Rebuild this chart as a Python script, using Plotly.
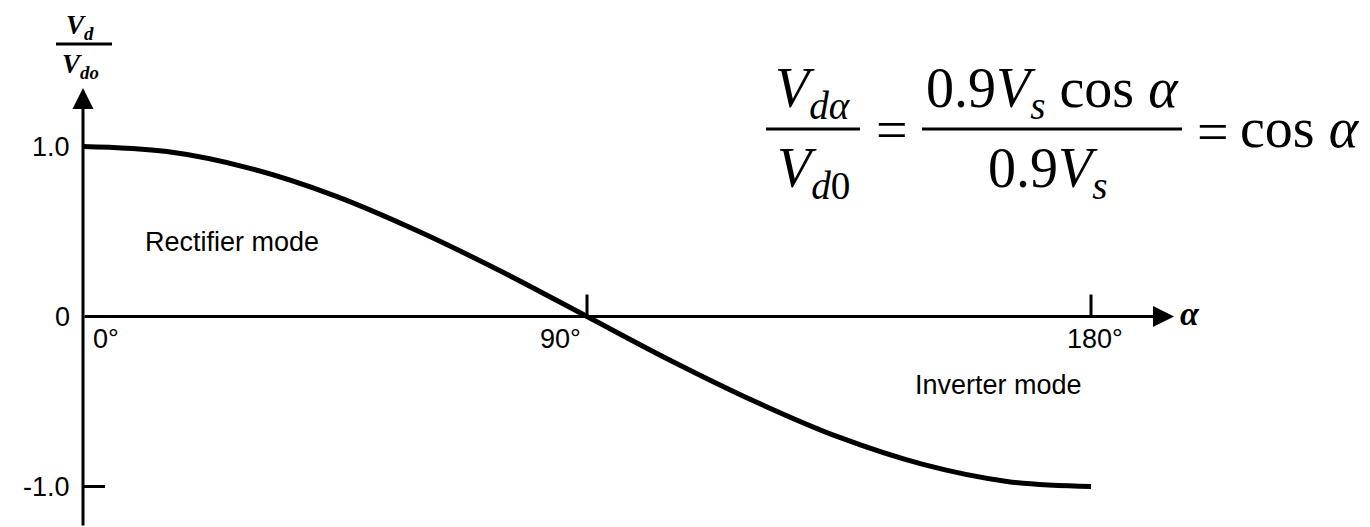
import plotly.graph_objects as go

# ---- data ----
alpha_deg = [0, 15, 30, 45, 60, 75, 90, 105, 120, 135, 150, 165, 180]
vd_ratio = [1.0, 0.97, 0.87, 0.71, 0.5, 0.26, 0.0, -0.26, -0.5, -0.71, -0.87, -0.97, -1.0]
x_tick_vals = [0, 90, 180]
x_tick_text = ["0°", "90°", "180°"]
y_tick_vals = [1.0, 0, -1.0]
y_tick_text = ["1.0", "0", "-1.0"]

# ---- layout geometry (target page pixels) ----
OFF = 8  # page body margin
W, H = 1370 - OFF, 527 - OFF
X0PX, PXDEG = 83 - OFF, 5.6
Y0PX, PXU = 316.5 - OFF, 170.0
xrange = [-X0PX / PXDEG, (W - X0PX) / PXDEG]
yrange = [-(H - Y0PX) / PXU, Y0PX / PXU]


def px2x(px):
    return (px - OFF - X0PX) / PXDEG


def py2y(py):
    return (Y0PX - (py - OFF)) / PXU


def pxp(px):
    return (px - OFF) / W


def pyp(py):
    return 1 - (py - OFF) / H


fig = go.Figure()
fig.add_trace(go.Scatter(
    x=alpha_deg, y=vd_ratio, mode="lines",
    line=dict(color="black", width=5, shape="spline", smoothing=1.0),
    hoverinfo="skip", showlegend=False,
))

ann = []
shapes = []

# axis lines with arrows
ann.append(dict(x=0, y=py2y(88), ax=0, ay=yrange[0], xref="x", yref="y",
                axref="x", ayref="y", text="", showarrow=True,
                arrowhead=2, arrowsize=1.4, arrowwidth=3, arrowcolor="black", standoff=0))
ann.append(dict(x=px2x(1174), y=0, ax=0, ay=0, xref="x", yref="y",
                axref="x", ayref="y", text="", showarrow=True,
                arrowhead=2, arrowsize=1.4, arrowwidth=3, arrowcolor="black", standoff=0))

# tick marks
TICK_X = 22 / PXDEG
TICK_Y = 22 / PXU
for v in y_tick_vals:
    if v != 0:
        shapes.append(dict(type="line", xref="x", yref="y", x0=0, x1=TICK_X, y0=v, y1=v,
                           line=dict(color="black", width=3)))
for v in x_tick_vals:
    if v != 0:
        shapes.append(dict(type="line", xref="x", yref="y", x0=v, x1=v, y0=0, y1=TICK_Y,
                           line=dict(color="black", width=3)))

tick_font = dict(family="Liberation Sans", size=27, color="black")
for v, t in zip(y_tick_vals, y_tick_text):
    ann.append(dict(x=0, y=v, xref="x", yref="y", text=t, showarrow=False,
                    xanchor="right", yanchor="middle", xshift=-11, font=tick_font))
x_label_shift = [23, -27, 4]
for v, t, s in zip(x_tick_vals, x_tick_text, x_label_shift):
    ann.append(dict(x=v, y=0, xref="x", yref="y", text=t, showarrow=False,
                    xanchor="center", yanchor="middle", xshift=s, yshift=-22, font=tick_font))

# region labels
ann.append(dict(x=px2x(232), y=py2y(242), xref="x", yref="y", text="Rectifier mode",
                showarrow=False, xanchor="center", yanchor="middle", font=tick_font))
ann.append(dict(x=px2x(998), y=py2y(385), xref="x", yref="y", text="Inverter mode",
                showarrow=False, xanchor="center", yanchor="middle", font=tick_font))

# alpha axis label
ann.append(dict(x=pxp(1190), y=pyp(313), xref="paper", yref="paper", text="<b><i>α</i></b>",
                showarrow=False, xanchor="center", yanchor="middle",
                font=dict(family="Liberation Serif", size=34, color="black")))

# y axis label (fraction)
ylab_font = dict(family="Liberation Serif", size=27, color="black")
ann.append(dict(x=pxp(80), y=pyp(8), xref="paper", yref="paper",
                text="<b><i>V</i></b><sub><b><i>d</i></b></sub>",
                showarrow=False, xanchor="center", yanchor="top", font=ylab_font))
ann.append(dict(x=pxp(80), y=pyp(66), xref="paper", yref="paper",
                text="<b><i>V</i></b><sub><b><i>do</i></b></sub>",
                showarrow=False, xanchor="center", yanchor="middle", font=ylab_font))
shapes.append(dict(type="line", xref="paper", yref="paper", x0=pxp(56), x1=pxp(112),
                   y0=pyp(44), y1=pyp(44), line=dict(color="black", width=3)))

# equation
eq_font = dict(family="Liberation Serif", size=56, color="black")
eq_items = [
    (813, 92, "<i>V</i><sub><i>dα</i></sub>"),
    (813, 172, "<i>V</i><sub><i>d</i>0</sub>"),
    (892, 130, "="),
    (1052, 92, "0.9<i>V</i><sub><i>s</i></sub> cos <i>α</i>"),
    (1047, 172, "0.9<i>V</i><sub><i>s</i></sub>"),
    (1213, 132, "="),
    (1300, 128, "cos <i>α</i>"),
]
for px, py, t in eq_items:
    ann.append(dict(x=pxp(px), y=pyp(py), xref="paper", yref="paper", text=t,
                    showarrow=False, xanchor="center", yanchor="middle", font=eq_font))
for x0, x1 in [(766, 860), (922, 1182)]:
    shapes.append(dict(type="line", xref="paper", yref="paper", x0=pxp(x0), x1=pxp(x1),
                       y0=pyp(129), y1=pyp(129), line=dict(color="black", width=3)))

fig.update_layout(
    width=W, height=H,
    margin=dict(l=0, r=0, t=0, b=0),
    paper_bgcolor="white", plot_bgcolor="white",
    xaxis=dict(range=xrange, visible=False, fixedrange=True),
    yaxis=dict(range=yrange, visible=False, fixedrange=True),
    annotations=ann, shapes=shapes, showlegend=False,
)

fig.write_html("out.html")
